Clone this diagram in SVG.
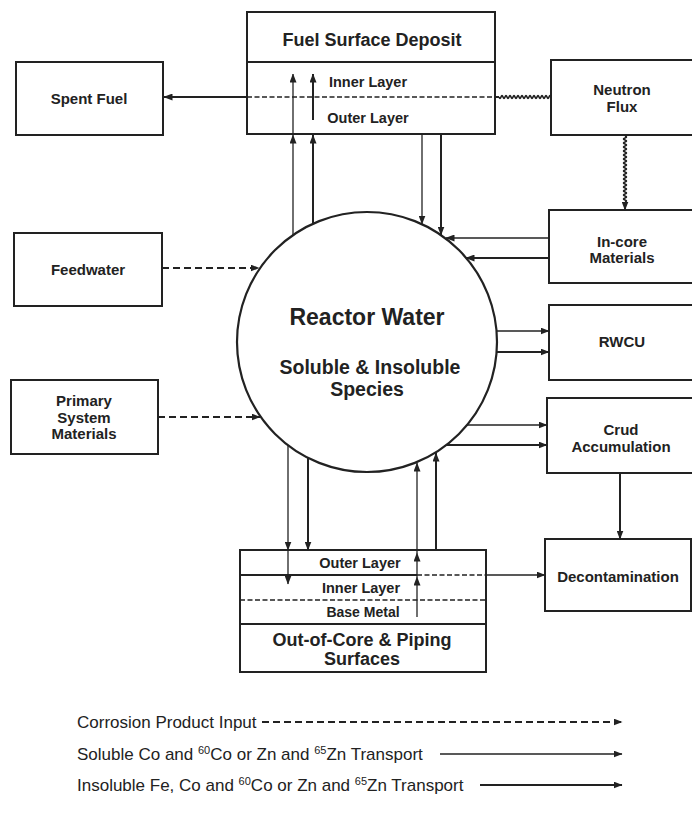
<svg xmlns="http://www.w3.org/2000/svg" width="692" height="817" viewBox="0 0 692 817">
<defs>
<marker id="ah" markerUnits="userSpaceOnUse" markerWidth="9" markerHeight="7" refX="8.5" refY="3.5" orient="auto">
<path d="M0,0 L9,3.5 L0,7 z" fill="#222"/>
</marker>
<style>
.box{fill:#fff;stroke:#222;stroke-width:2}
.div{stroke:#222;stroke-width:1.8;fill:none}
.dash{stroke:#222;stroke-width:1.6;stroke-dasharray:5 2.5;fill:none}
.lbl{font-family:"Liberation Sans",Arial,sans-serif;font-weight:bold;fill:#222;text-anchor:middle}
.leg{font-family:"Liberation Sans",Arial,sans-serif;font-size:17px;fill:#222}
.sol{stroke:#222;stroke-width:1.3;fill:none;marker-end:url(#ah)}
.ins{stroke:#222;stroke-width:2;fill:none;marker-end:url(#ah)}
.cor{stroke:#222;stroke-width:1.8;stroke-dasharray:7 4;fill:none;marker-end:url(#ah)}
.wave{stroke:#222;stroke-width:1.6;fill:none}
</style>
</defs>
<rect width="692" height="817" fill="#fff"/>

<g id="fuel-surface-deposit">
<rect class="box" x="247" y="12" width="248" height="122"/>
<line class="div" x1="247" y1="62" x2="495" y2="62"/>
<line class="dash" x1="247" y1="97" x2="495" y2="97"/>
<text class="lbl" x="372" y="46" font-size="18">Fuel Surface Deposit</text>
<text class="lbl" x="368" y="87" font-size="14.5">Inner Layer</text>
<text class="lbl" x="368" y="123" font-size="14.5">Outer Layer</text>
</g>

<g id="spent-fuel">
<rect class="box" x="16" y="62" width="147" height="73"/>
<text class="lbl" x="89" y="104" font-size="15">Spent Fuel</text>
</g>

<g id="neutron-flux">
<rect class="box" x="551" y="60" width="150" height="75"/>
<text class="lbl" x="622" y="95" font-size="15">Neutron</text>
<text class="lbl" x="622" y="112" font-size="15">Flux</text>
</g>

<g id="in-core-materials">
<rect class="box" x="549" y="210" width="150" height="73"/>
<text class="lbl" x="622" y="247" font-size="15">In-core</text>
<text class="lbl" x="622" y="263" font-size="15">Materials</text>
</g>

<g id="rwcu">
<rect class="box" x="549" y="305" width="150" height="75"/>
<text class="lbl" x="622" y="347" font-size="15">RWCU</text>
</g>

<g id="crud-accumulation">
<rect class="box" x="547" y="398" width="150" height="75"/>
<text class="lbl" x="621" y="435" font-size="15">Crud</text>
<text class="lbl" x="621" y="452" font-size="15">Accumulation</text>
</g>

<g id="decontamination">
<rect class="box" x="545" y="539" width="146" height="72"/>
<text class="lbl" x="618" y="582" font-size="15">Decontamination</text>
</g>

<g id="feedwater">
<rect class="box" x="14" y="233" width="148" height="73"/>
<text class="lbl" x="88" y="275" font-size="15">Feedwater</text>
</g>

<g id="primary-system-materials">
<rect class="box" x="11" y="380" width="147" height="74"/>
<text class="lbl" x="84" y="406" font-size="15">Primary</text>
<text class="lbl" x="84" y="423" font-size="15">System</text>
<text class="lbl" x="84" y="439" font-size="15">Materials</text>
</g>

<g id="reactor-water">
<circle cx="367" cy="342" r="130" fill="#fff" stroke="#222" stroke-width="2.2"/>
<text class="lbl" x="367" y="325" font-size="23">Reactor Water</text>
<text class="lbl" x="370" y="374" font-size="19.5">Soluble &amp; Insoluble</text>
<text class="lbl" x="367" y="396" font-size="19.5">Species</text>
</g>

<g id="out-of-core-piping-surfaces">
<rect class="box" x="240" y="550" width="246" height="122"/>
<line class="div" x1="240" y1="575" x2="417" y2="575"/>
<line class="dash" x1="417" y1="575" x2="486" y2="575"/>
<line class="dash" x1="240" y1="600" x2="486" y2="600"/>
<line class="div" x1="240" y1="624" x2="486" y2="624"/>
<text class="lbl" x="360" y="568" font-size="14.5">Outer Layer</text>
<text class="lbl" x="361" y="593" font-size="14.5">Inner Layer</text>
<text class="lbl" x="363" y="617" font-size="14">Base Metal</text>
<text class="lbl" x="362" y="646" font-size="18">Out-of-Core &amp; Piping</text>
<text class="lbl" x="362" y="665" font-size="18">Surfaces</text>
</g>

<g id="connectors">
<path class="wave" d="M551,97 q-1,-3 -2,0 t-2,0 t-2,0 t-2,0 t-2,0 t-2,0 t-2,0 t-2,0 t-2,0 t-2,0 t-2,0 t-2,0 t-2,0 t-2,0 t-2,0 t-2,0 t-2,0 t-2,0 t-2,0 t-2,0 t-2,0 t-2,0 t-2,0 t-2,0 t-2,0 t-2,0"/>
<line x1="499" y1="97" x2="495" y2="97" stroke="#222" stroke-width="2"/>
<line class="ins" x1="247" y1="97" x2="164" y2="97"/>
<path class="wave" d="M625,136 q3,1 0,2 t0,2 t0,2 t0,2 t0,2 t0,2 t0,2 t0,2 t0,2 t0,2 t0,2 t0,2 t0,2 t0,2 t0,2 t0,2 t0,2 t0,2 t0,2 t0,2 t0,2 t0,2 t0,2 t0,2 t0,2 t0,2 t0,2 t0,2 t0,2 t0,2 t0,2 t0,2 t0,2"/>
<line class="ins" x1="625" y1="202" x2="625" y2="210"/>
<line class="sol" x1="293" y1="235" x2="293" y2="135"/>
<line class="sol" x1="293" y1="134" x2="293" y2="74"/>
<line class="ins" x1="313" y1="224" x2="313" y2="135"/>
<line class="ins" x1="313" y1="120" x2="313" y2="74"/>
<line class="sol" x1="422" y1="134" x2="422" y2="224"/>
<line class="ins" x1="441" y1="134" x2="441" y2="235"/>
<line class="sol" x1="549" y1="238" x2="446" y2="238"/>
<line class="ins" x1="549" y1="258" x2="466" y2="258"/>
<line class="sol" x1="497" y1="331" x2="549" y2="331"/>
<line class="ins" x1="497" y1="352" x2="549" y2="352"/>
<line class="sol" x1="467" y1="425" x2="547" y2="425"/>
<line class="ins" x1="446" y1="445" x2="547" y2="445"/>
<line class="ins" x1="620" y1="473" x2="620" y2="539"/>
<line class="sol" x1="486" y1="575" x2="545" y2="575"/>
<line class="cor" x1="162" y1="268" x2="259" y2="268"/>
<line class="cor" x1="158" y1="417" x2="260" y2="417"/>
<line class="sol" x1="288" y1="445" x2="288" y2="550"/>
<line class="sol" x1="288" y1="550" x2="288" y2="584"/>
<line class="ins" x1="308" y1="458" x2="308" y2="550"/>
<line class="sol" x1="417" y1="617" x2="417" y2="577"/>
<line class="sol" x1="417" y1="577" x2="417" y2="553"/>
<line class="sol" x1="417" y1="553" x2="417" y2="463"/>
<line class="ins" x1="436" y1="550" x2="436" y2="453"/>
</g>

<g id="legend">
<text class="leg" x="77" y="728">Corrosion Product Input</text>
<line class="cor" x1="262" y1="722" x2="622" y2="722"/>
<text class="leg" x="77" y="760">Soluble Co and <tspan font-size="11" dy="-6">60</tspan><tspan dy="6">Co or Zn and </tspan><tspan font-size="11" dy="-6">65</tspan><tspan dy="6">Zn Transport</tspan></text>
<line class="sol" x1="440" y1="754" x2="622" y2="754"/>
<text class="leg" x="77" y="791">Insoluble Fe, Co and <tspan font-size="11" dy="-6">60</tspan><tspan dy="6">Co or Zn and </tspan><tspan font-size="11" dy="-6">65</tspan><tspan dy="6">Zn Transport</tspan></text>
<line class="ins" x1="480" y1="785" x2="622" y2="785"/>
</g>
</svg>
